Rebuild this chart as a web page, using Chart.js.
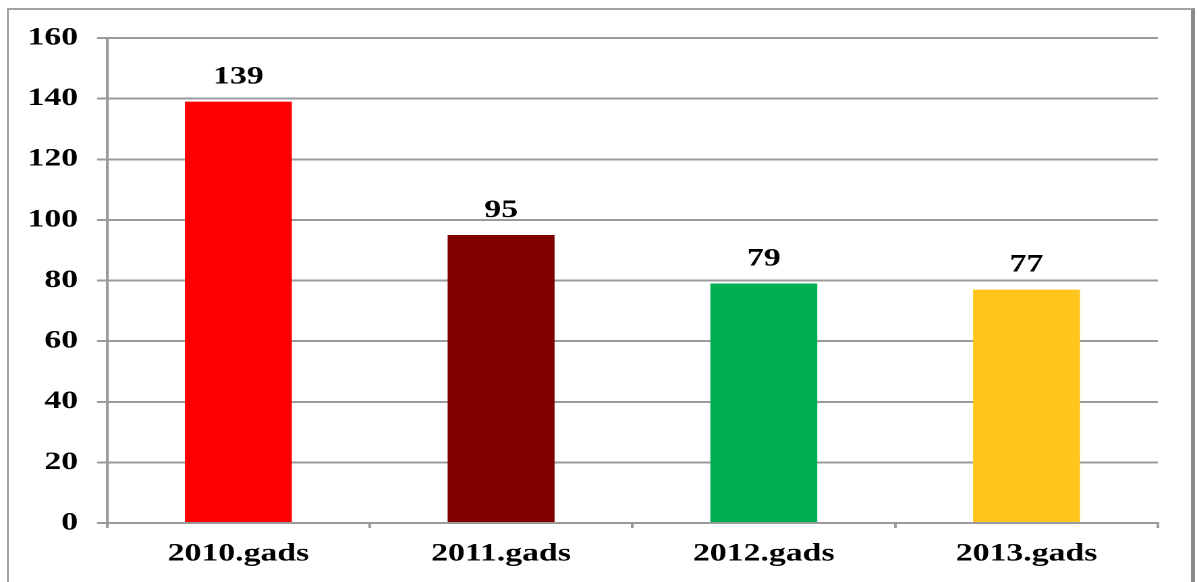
<!DOCTYPE html>
<html>
<head>
<meta charset="utf-8">
<script src="https://cdn.jsdelivr.net/npm/chart.js@4.4.1/dist/chart.umd.min.js"></script>
<style>
    html, body { margin: 0; padding: 0; background: #fff; overflow: hidden; }
    #frame {
        position: absolute; left: 7px; top: 8px; width: 1182px; height: 600px;
        border: 2px solid #a3a3a3; border-right: 4px solid #8a8a8a;
    }
    /* the original picture is stretched sideways, so the chart is drawn narrow and scaled */
    #wrap {
        position: absolute; left: 0; top: 0; width: 887px; height: 582px;
        transform: scaleX(1.3495); transform-origin: 0 0;
    }
</style>
</head>
<body>
<div id="frame"></div>
<div id="wrap"><canvas id="chart"></canvas></div>
<script>
const years = ['2010.gads', '2011.gads', '2012.gads', '2013.gads'];
const counts = [139, 95, 79, 77];
const barColors = ['#ff0000', '#800000', '#00b050', '#ffc51c'];
const yTicks = [0, 20, 40, 60, 80, 100, 120, 140, 160];

const FONT = { family: '"Liberation Serif", "Times New Roman", serif', size: 25, weight: 'bold' };
const GRID = '#9a9a9a';

// value above each bar
const barLabels = {
    id: 'barLabels',
    afterDatasetsDraw(chart) {
        const ctx = chart.ctx;
        const meta = chart.getDatasetMeta(0);
        ctx.save();
        ctx.font = `${FONT.weight} ${FONT.size}px ${FONT.family}`;
        ctx.fillStyle = '#000';
        ctx.textAlign = 'center';
        ctx.textBaseline = 'alphabetic';
        meta.data.forEach((bar, i) => {
            ctx.fillText(String(counts[i]), bar.x, bar.y - 18);
        });
        ctx.restore();
    }
};

new Chart(document.getElementById('chart'), {
    type: 'bar',
    data: {
        labels: years,
        datasets: [{
            data: counts,
            backgroundColor: barColors,
            borderWidth: 0,
            barPercentage: 0.407,
            categoryPercentage: 1
        }]
    },
    options: {
        responsive: true,
        maintainAspectRatio: false,
        devicePixelRatio: 2,
        animation: false,
        layout: { padding: { top: 38, right: 29, left: 0, bottom: 0 } },
        plugins: { legend: { display: false }, tooltip: { enabled: false } },
        scales: {
            x: {
                afterFit: s => { s.height = 59; },
                grid: { offset: true, drawOnChartArea: false, drawTicks: true, tickLength: 5, color: GRID, lineWidth: 2 },
                border: { color: GRID, width: 2 },
                ticks: { color: '#000', font: FONT, padding: 11, maxRotation: 0 }
            },
            y: {
                min: yTicks[0],
                max: yTicks[yTicks.length - 1],
                afterFit: s => { s.width = 79.3; },
                afterBuildTicks: s => { s.ticks = yTicks.map(v => ({ value: v })); },
                grid: { color: GRID, lineWidth: 2, drawTicks: true, tickLength: 7.4 },
                border: { color: GRID, width: 2 },
                ticks: { color: '#000', font: FONT, padding: 14 }
            }
        }
    },
    plugins: [barLabels]
});
</script>
</body>
</html>
